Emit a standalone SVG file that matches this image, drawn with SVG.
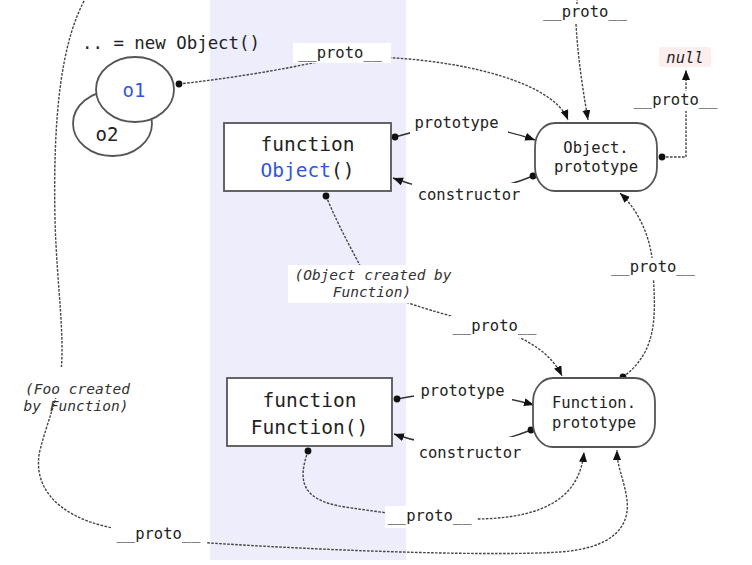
<svg xmlns="http://www.w3.org/2000/svg" width="752" height="565" viewBox="0 0 752 565">
<defs>
<style>
.t{font-family:"DejaVu Sans Mono","Liberation Mono",monospace;fill:#222}
.box{font-size:19.5px}
.lbl{font-size:15.5px}
.it{font-size:14.5px;font-style:italic;fill:#333}
.blue{fill:#3355dd}
.node{fill:#fff;stroke:#555;stroke-width:1.8}
.dash{fill:none;stroke:#444;stroke-width:1.4;stroke-dasharray:2.6 1.4}
.solid{fill:none;stroke:#333;stroke-width:1.4}
.bg{fill:#fff}
</style>
<marker id="arr" markerUnits="userSpaceOnUse" markerWidth="11" markerHeight="9" refX="10" refY="4" orient="auto">
<path d="M0,0 L10,4 L0,8 z" fill="#111"/>
</marker>
<marker id="dot" markerUnits="userSpaceOnUse" markerWidth="8" markerHeight="8" refX="4" refY="4">
<circle cx="4" cy="4" r="3.4" fill="#111"/>
</marker>
</defs>
<rect width="752" height="565" fill="#fff"/>
<rect x="210" y="0" width="196" height="560" fill="#ededfb"/>

<g id="connectors">
<path class="dash" d="M179,84 C250,76 300,66 340,57 C440,54 552,78 568,120" marker-start="url(#dot)" marker-end="url(#arr)"/>
<path class="dash" d="M577,-2 L577,5"/>
<path class="dash" d="M576,24 C578,60 583,90 588,120" marker-end="url(#arr)"/>
<path class="dash" d="M662,157 L686,157 L686,70" marker-start="url(#dot)" marker-end="url(#arr)"/>
<path class="solid" d="M395,137 Q465,115 535,140" marker-start="url(#dot)" marker-end="url(#arr)"/>
<path class="solid" d="M533,176 Q463,205 393,178" marker-start="url(#dot)" marker-end="url(#arr)"/>
<path class="solid" d="M397,399 Q465,385 534,405" marker-start="url(#dot)" marker-end="url(#arr)"/>
<path class="solid" d="M531,430 Q462,458 394,434" marker-start="url(#dot)" marker-end="url(#arr)"/>
<path class="dash" d="M326,196 C340,230 355,255 370,285 C390,300 430,310 490,327 C530,338 552,355 562,376" marker-start="url(#dot)" marker-end="url(#arr)"/>
<path class="dash" d="M623,377 C660,350 655,310 653,270 C652,240 640,212 620,193" marker-start="url(#dot)" marker-end="url(#arr)"/>
<path class="dash" d="M308,451 C298,480 300,500 345,507 C365,510 380,512 395,514 L478,519 C548,518 580,495 584,452" marker-start="url(#dot)" marker-end="url(#arr)"/>
<path class="dash" d="M88,-6 C60,40 53,120 55,220 C57,290 66,340 60,380 C55,405 48,420 40,450 C32,485 55,515 108,527 C140,534 180,540 210,543 C350,552 500,556 560,552 C615,548 630,525 627,500 C624,478 617,468 617,450" marker-end="url(#arr)"/>
</g>

<g id="labels">
<rect class="bg" x="293" y="43" width="98" height="20"/>
<text class="t lbl" x="340" y="58" text-anchor="middle">__proto__</text>
<rect class="bg" x="540" y="4" width="92" height="20"/>
<text class="t lbl" x="585" y="17" text-anchor="middle">__proto__</text>
<rect class="bg" x="630" y="91" width="92" height="20"/>
<text class="t lbl" x="675.5" y="105" text-anchor="middle">__proto__</text>
<rect class="bg" x="410" y="115" width="98" height="19"/>
<text class="t lbl" x="456.5" y="128" text-anchor="middle">prototype</text>
<rect class="bg" x="412" y="183" width="112" height="21"/>
<text class="t lbl" x="469" y="200" text-anchor="middle">constructor</text>
<rect class="bg" x="414" y="382" width="98" height="19"/>
<text class="t lbl" x="462.5" y="396" text-anchor="middle">prototype</text>
<rect class="bg" x="414" y="437" width="112" height="25"/>
<text class="t lbl" x="470" y="458" text-anchor="middle">constructor</text>
<rect class="bg" x="288" y="265" width="168" height="38"/>
<text class="t it" x="373" y="280" text-anchor="middle">(Object created by</text>
<text class="t it" x="372" y="297" text-anchor="middle">Function)</text>
<rect class="bg" x="450" y="316" width="90" height="22"/>
<text class="t lbl" x="494.5" y="331" text-anchor="middle">__proto__</text>
<rect class="bg" x="608" y="258" width="92" height="22"/>
<text class="t lbl" x="653" y="272" text-anchor="middle">__proto__</text>
<rect class="bg" x="385" y="506" width="92" height="22"/>
<text class="t lbl" x="429.5" y="521" text-anchor="middle">__proto__</text>
<rect class="bg" x="112" y="525" width="95" height="23"/>
<text class="t lbl" x="158.5" y="539" text-anchor="middle">__proto__</text>
<rect class="bg" x="20" y="367" width="115" height="31"/>
<text class="t it" x="77.5" y="394" text-anchor="middle">(Foo created</text>
<text class="t it" x="76" y="411" text-anchor="middle">by Function)</text>
<text class="t" x="82" y="49" style="font-size:17.4px">.. = new Object()</text>
</g>

<g id="o2">
<ellipse class="node" cx="112.5" cy="123.5" rx="39.5" ry="32.5"/>
<text class="t" x="107" y="141" text-anchor="middle" style="font-size:19px">o2</text>
</g>
<g id="o1">
<ellipse class="node" cx="135" cy="89.5" rx="39" ry="32.5"/>
<text class="t blue" x="134" y="97" text-anchor="middle" style="font-size:19px">o1</text>
</g>

<g id="ObjectFn">
<rect class="node" x="224" y="123" width="167" height="68"/>
<text class="t box" x="307.5" y="151" text-anchor="middle">function</text>
<text class="t box" x="307.5" y="177" text-anchor="middle"><tspan class="blue">Object</tspan>()</text>
</g>

<g id="FunctionFn">
<rect class="node" x="227" y="378" width="165" height="68"/>
<text class="t box" x="309.5" y="407" text-anchor="middle">function</text>
<text class="t box" x="309.5" y="434" text-anchor="middle">Function()</text>
</g>

<g id="ObjectPrototype">
<rect class="node" x="535" y="123" width="122" height="68" rx="20" ry="24"/>
<text class="t" x="596" y="153" text-anchor="middle" style="font-size:15.5px">Object.</text>
<text class="t" x="596" y="172" text-anchor="middle" style="font-size:15.5px">prototype</text>
</g>

<g id="FunctionPrototype">
<rect class="node" x="533" y="378" width="122" height="69" rx="20" ry="24"/>
<text class="t" x="594" y="408" text-anchor="middle" style="font-size:15.5px">Function.</text>
<text class="t" x="594" y="428" text-anchor="middle" style="font-size:15.5px">prototype</text>
</g>

<g id="null">
<rect x="659" y="47" width="52" height="20" rx="3" fill="#fdeeee"/>
<text class="t" x="685" y="63" text-anchor="middle" style="font-size:15.5px;font-style:italic">null</text>
</g>
</svg>
